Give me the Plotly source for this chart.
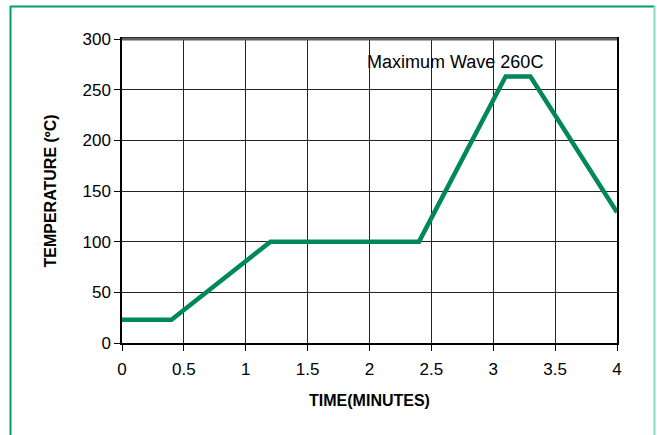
import plotly.graph_objects as go

time_min = [0, 0.4, 1.2, 2.4, 3.1, 3.3, 4.0]
temp_c = [23, 23, 100, 100, 263, 263, 129]

x_ticks = [0, 0.5, 1, 1.5, 2, 2.5, 3, 3.5, 4]
x_labels = ["0", "0.5", "1", "1.5", "2", "2.5", "3", "3.5", "4"]
y_ticks = [0, 50, 100, 150, 200, 250, 300]

W, H = 657, 435
L, T = 122, 39
R = W - 617
B = H - 343
pw, ph = W - L - R, H - T - B

def px(x):
    return (x - L) / pw

def py(y):
    return (H - B - y) / ph

fig = go.Figure()
fig.add_trace(go.Scatter(x=time_min, y=temp_c, mode="lines",
                         line=dict(color="#00885A", width=4.5), showlegend=False))

fig.update_layout(
    width=W, height=H,
    margin=dict(l=L, r=R, t=T, b=B),
    paper_bgcolor="white", plot_bgcolor="white",
    font=dict(family="Liberation Sans, Arial, sans-serif", color="black", size=17),
    xaxis=dict(range=[0, 4], tickvals=x_ticks, ticktext=x_labels,
               showgrid=True, gridcolor="#222", gridwidth=1,
               showline=True, linecolor="black", linewidth=1.5, mirror=True,
               ticks="outside", ticklen=6, tickcolor="black", zeroline=False,
               ticklabelstandoff=4,
               title=dict(text="<b>TIME(MINUTES)</b>", font=dict(size=16), standoff=17)),
    yaxis=dict(range=[0, 300], tickvals=y_ticks,
               showgrid=True, gridcolor="#222", gridwidth=1,
               showline=True, linecolor="black", linewidth=1.5, mirror=True,
               ticks="outside", ticklen=6, tickcolor="black", zeroline=False,
               title=dict(text="<b>TEMPERATURE (ºC)</b>", font=dict(size=16), standoff=22)),
    annotations=[dict(x=2.69, y=277, xref="x", yref="y", text="Maximum Wave 260C",
                      showarrow=False, font=dict(size=18), xanchor="center", yanchor="middle")],
    shapes=[
        dict(type="line", xref="paper", yref="paper", x0=px(10.5), x1=px(10.5), y0=py(6), y1=py(440),
             line=dict(color="#00A060", width=2)),
        dict(type="line", xref="paper", yref="paper", x0=px(10), x1=px(655), y0=py(6.5), y1=py(6.5),
             line=dict(color="#00A060", width=2)),
        dict(type="line", xref="paper", yref="paper", x0=px(654.5), x1=px(654.5), y0=py(6), y1=py(440),
             line=dict(color="#8ED8BC", width=2)),
        dict(type="line", xref="paper", yref="paper", x0=0, x1=1, y0=1, y1=1,
             line=dict(color="#606060", width=3)),
    ],
)

fig.write_html("out.html", config={"displayModeBar": False},
               post_script="document.body.style.margin='0';document.body.style.overflow='hidden';")
